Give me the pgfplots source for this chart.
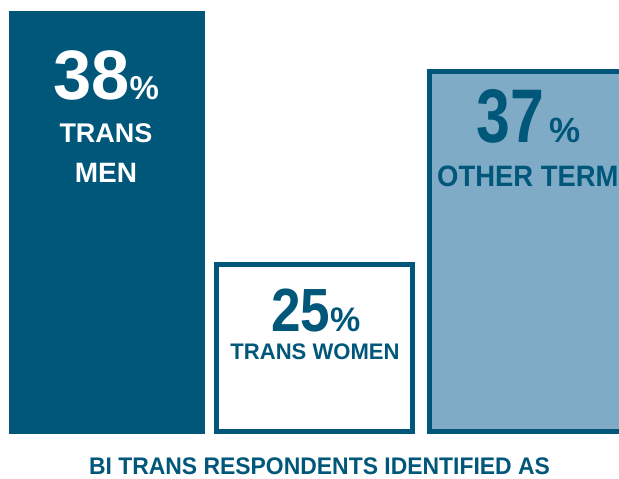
\documentclass[border=0pt]{standalone}
\usepackage{pgfplots}
\pgfplotsset{compat=1.18}
\usepackage{fontspec}
\setmainfont{Liberation Sans}
\definecolor{darkblue}{RGB}{0,87,122}
\definecolor{lightblue}{RGB}{127,171,198}

\begin{document}
\begin{tikzpicture}
\begin{axis}[name=ax,scale only axis,width=619pt,height=479pt,
  xmin=0,xmax=619,ymin=-47.5,ymax=431.5,hide axis,clip=true]
% bar heights as drawn (pixel units), labels carry the shares
\addplot[ybar,bar width=191,bar shift=0pt,fill=darkblue,draw=darkblue,line width=5pt]
  coordinates {(107,418)};
\addplot[ybar,bar width=196,bar shift=0pt,fill=white,draw=darkblue,line width=5pt]
  coordinates {(314.5,167)};
\addplot[ybar,bar width=196,bar shift=0pt,fill=lightblue,draw=darkblue,line width=5pt]
  coordinates {(527.5,360)};

\node[inner sep=0pt,anchor=base west,text=white] at (axis cs:53,331.5)
  {\bfseries\scalebox{0.98}[1]{\fontsize{70}{70}\selectfont 38}\fontsize{33}{33}\selectfont\%};
\node[inner sep=0pt,anchor=base,text=white] at (axis cs:106,288.5)
  {\bfseries\fontsize{27}{27}\selectfont TRANS};
\node[inner sep=0pt,anchor=base,text=white] at (axis cs:106,248.5)
  {\bfseries\fontsize{28}{28}\selectfont MEN};

\node[inner sep=0pt,anchor=base west,text=darkblue] at (axis cs:271,99.5)
  {\bfseries\scalebox{0.87}[1]{\fontsize{61}{61}\selectfont 25}\fontsize{34}{34}\selectfont\%};
\node[inner sep=0pt,anchor=base,text=darkblue] at (axis cs:315,71.5)
  {\bfseries\scalebox{0.98}[1]{\fontsize{22.5}{22.5}\selectfont TRANS WOMEN}};

\node[inner sep=0pt,anchor=base west,text=darkblue] at (axis cs:476,288.5)
  {\bfseries\scalebox{0.8}[1]{\fontsize{76}{76}\selectfont 37}\hspace{6pt}\fontsize{35}{35}\selectfont\%};
\node[inner sep=0pt,anchor=base west,text=darkblue] at (axis cs:437,244.5)
  {\bfseries\scalebox{0.93}[1]{\fontsize{29.5}{29.5}\selectfont OTHER TERM}};

\node[inner sep=0pt,anchor=base,text=darkblue] at (axis cs:319.5,-43.5)
  {\bfseries\scalebox{0.955}[1]{\fontsize{24}{24}\selectfont BI TRANS RESPONDENTS IDENTIFIED AS}};
\end{axis}
\pgfresetboundingbox
\path[use as bounding box] (ax.south west) rectangle (ax.north east);
\end{tikzpicture}
\end{document}
